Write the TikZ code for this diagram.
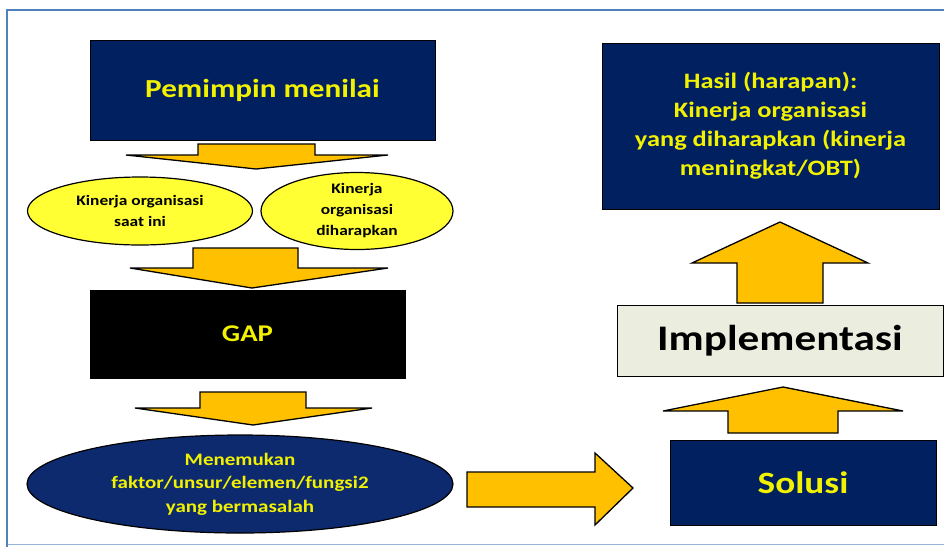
\documentclass[tikz,border=0pt]{standalone}
\usepackage{fontspec}
\setmainfont{Carlito}[FakeStretch=1.2]
\usetikzlibrary{shapes.geometric}
\definecolor{navy}{HTML}{002060}
\definecolor{navyell}{HTML}{0E2A6E}
\definecolor{txtyel}{HTML}{F2F200}
\definecolor{arrowfill}{HTML}{FFC000}
\definecolor{framebl}{HTML}{4F81BD}
\definecolor{implfill}{HTML}{EBEEDF}
\definecolor{elyel}{HTML}{FFFF33}
\tikzset{
  navybox/.style={draw=black, line width=1pt, fill=navy, text=txtyel, font=\bfseries, align=center, inner sep=0pt},
  yelell/.style={ellipse, draw=black, line width=1.2pt, fill=elyel, text=black, font=\bfseries\fontsize{14.5}{21}\selectfont, align=center, inner sep=0pt},
  blockarrow/.style={draw=black, line width=1.3pt, fill=arrowfill, line join=miter},
}
\begin{document}
\begin{tikzpicture}[x=1pt,y=-1pt]
\useasboundingbox (0,0) rectangle (944,547);
% frame
\draw[framebl!60, line width=1pt] (7,544) -- (944,544);
\draw[framebl, line width=2.5pt] (944,10) -- (7,10) -- (7,547);

% left column
\node[navybox, minimum width=345pt, minimum height=100pt, font=\bfseries\fontsize{26}{30}\selectfont] (lead) at (262.5,90) {Pemimpin menilai};
\node[yelell, minimum width=225pt, minimum height=68pt] (now) at (140,211) {Kinerja organisasi\\saat ini};
\node[yelell, minimum width=192pt, minimum height=68pt] (want) at (357,211) {Kinerja\\organisasi\\diharapkan};
\node[draw=black, line width=1pt, fill=black, text=txtyel, font=\bfseries\fontsize{24}{28}\selectfont, minimum width=315pt, minimum height=88pt, inner sep=0pt] (gap) at (247.5,334) {GAP};
\node[ellipse, draw=black, line width=1.2pt, fill=navyell, text=txtyel, font=\bfseries\fontsize{17.5}{23.5}\selectfont, align=center, inner sep=0pt, minimum width=426pt, minimum height=98pt] (find) at (240,484) {Menemukan\\faktor/unsur/elemen/fungsi2\\yang bermasalah};

% right column
\node[navybox, minimum width=337pt, minimum height=166pt, font=\bfseries\fontsize{22}{29}\selectfont] (result) at (770.5,126) {Hasil (harapan):\\Kinerja organisasi\\yang diharapkan (kinerja\\meningkat/OBT)};
\node[draw=black, line width=1pt, fill=implfill, text=black, font=\bfseries\fontsize{36}{40}\selectfont, minimum width=326pt, minimum height=71pt, inner sep=0pt] (impl) at (780,340.5) {Implementasi};
\node[navybox, minimum width=266pt, minimum height=85pt, font=\bfseries\fontsize{31}{36}\selectfont] (sol) at (803,482.5) {Solusi};

% block arrows (down)
\draw[blockarrow] (198,144) -- (315,144) -- (315,155) -- (388,155) -- (256,169) -- (126,155) -- (198,155) -- cycle;
\draw[blockarrow] (193,248) -- (298,248) -- (298,268) -- (388,268) -- (252,288) -- (130,268) -- (193,268) -- cycle;
\draw[blockarrow] (200,392) -- (306,392) -- (306,408) -- (372,408) -- (253,425) -- (135,408) -- (200,408) -- cycle;
% right arrow
\draw[blockarrow] (467,472) -- (595,472) -- (595,453) -- (633,488) -- (595,525) -- (595,507) -- (467,507) -- cycle;
% up arrows
\draw[blockarrow] (737,303) -- (737,263) -- (692,263) -- (780,222) -- (868,263) -- (823,263) -- (823,303) -- cycle;
\draw[blockarrow] (728,433) -- (728,411) -- (663,411) -- (783,387) -- (903,411) -- (838,411) -- (838,433) -- cycle;
\end{tikzpicture}
\end{document}
